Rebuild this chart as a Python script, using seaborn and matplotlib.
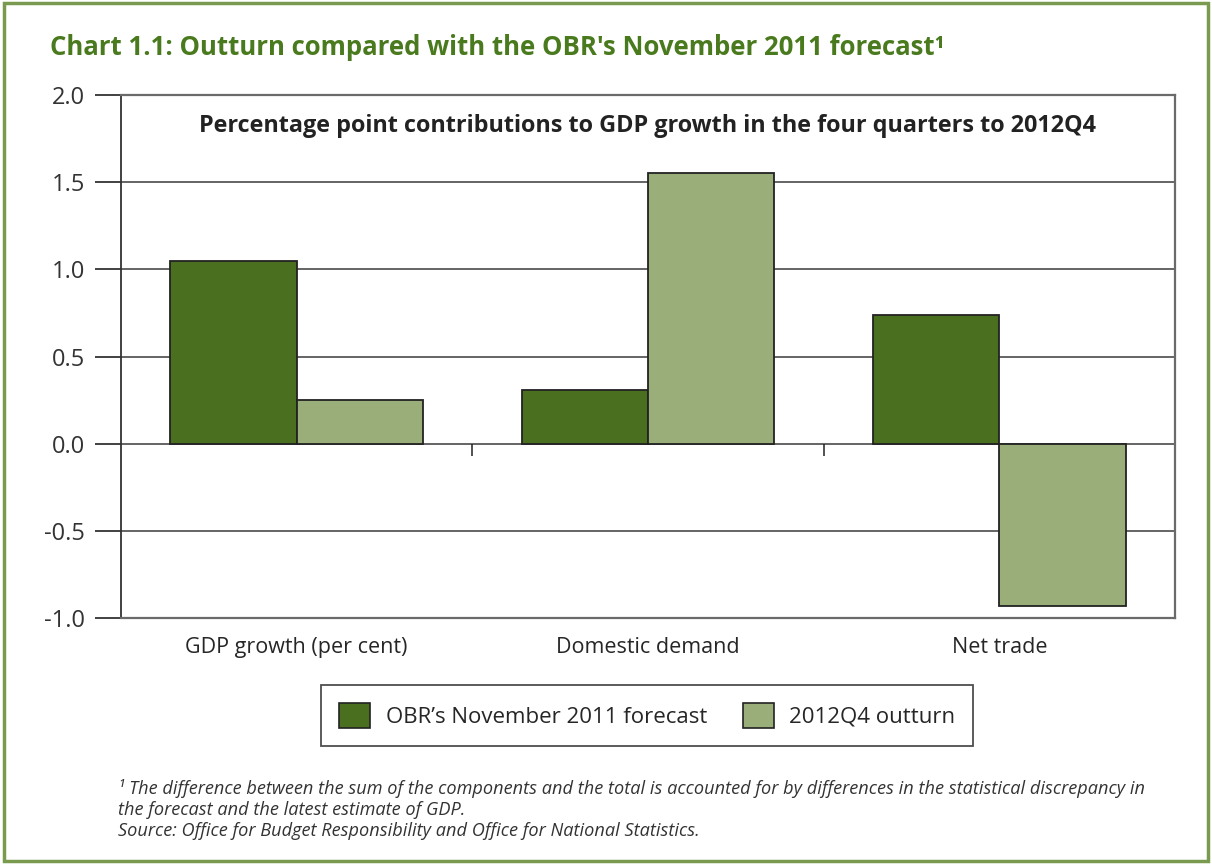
import pandas as pd
import matplotlib
matplotlib.use('Agg')
import matplotlib.pyplot as plt
import matplotlib.patches as mpatches
import seaborn as sns

categories = ['GDP growth (per cent)', 'Domestic demand', 'Net trade']
series_names = ['OBR\u2019s November 2011 forecast', '2012Q4 outturn']
forecast = [1.05, 0.31, 0.74]
outturn = [0.25, 1.55, -0.93]
y_ticks = [-1.0, -0.5, 0.0, 0.5, 1.0, 1.5, 2.0]

colors = ['#4a6f1e', '#9aae7a']

df = pd.DataFrame({
    'Category': categories * 2,
    'Series': [series_names[0]] * 3 + [series_names[1]] * 3,
    'Value': forecast + outturn,
})

sns.set_style('white')
plt.rcParams['font.family'] = ['Open Sans', 'DejaVu Sans']

fig = plt.figure(figsize=(12.12, 8.64), dpi=100)
ax = fig.add_axes([0.0998, 0.2847, 0.8697, 0.6053])

# gridlines behind bars
for yv in y_ticks[1:-1]:
    ax.axhline(yv, color='#3a3a3a', lw=1.1, zorder=0)

sns.barplot(data=df, x='Category', y='Value', hue='Series', palette=colors,
            width=0.72, edgecolor='#222222', linewidth=1.3, saturation=1,
            ax=ax, legend=False, zorder=2)

ax.set_ylim(-1.0, 2.0)
ax.set_xlim(-0.5, 2.5)
ax.set_yticks(y_ticks)
ax.set_yticklabels([f'{v:.1f}' for v in y_ticks], fontsize=17, color='#333333')
ax.tick_params(axis='y', left=True, direction='out', length=19, width=1.3,
               color='#333333', pad=7)
ax.tick_params(axis='x', bottom=False, length=0, labelsize=15.5, pad=14)
ax.set_xlabel('')
ax.set_ylabel('')

for s in ax.spines.values():
    s.set_visible(True)
    s.set_color('#6a6a6a')
    s.set_linewidth(1.6)
ax.spines['left'].set_color('#333333')
ax.spines['left'].set_linewidth(1.3)

# category separator ticks on the zero line
ax.vlines([0.5, 1.5], -0.07, 0, color='#222222', lw=1.1, zorder=3)

ax.text(0.5, 0.94, 'Percentage point contributions to GDP growth in the four quarters to 2012Q4',
        transform=ax.transAxes, ha='center', va='center', fontsize=16.8, fontweight='bold',
        color='#222222')

fig.text(0.041, 0.945, 'Chart 1.1: Outturn compared with the OBR\'s November 2011 forecast\u00b9',
         ha='left', va='center', fontsize=18.5, fontweight='bold', color='#4a7a1e')

handles = [mpatches.Patch(facecolor=c, edgecolor='#222222', linewidth=1.2) for c in colors]
leg = fig.legend(handles, series_names, loc='center', bbox_to_anchor=(0.534, 0.172),
                 ncol=2, fontsize=16, frameon=True, fancybox=False, edgecolor='#222222',
                 handlelength=1.4, handleheight=1.4, handletextpad=0.7, columnspacing=1.6,
                 borderpad=0.8)
leg.get_frame().set_linewidth(1.3)

foot = ('\u00b9 The difference between the sum of the components and the total is accounted for by differences in the statistical discrepancy in\n'
        'the forecast and the latest estimate of GDP.\n'
        'Source: Office for Budget Responsibility and Office for National Statistics.')
fig.text(0.097, 0.063, foot, ha='left', va='center', fontsize=13.1, style='italic',
         color='#333333', linespacing=1.2)

fig.patches.append(mpatches.Rectangle((0.003, 0.004), 0.994, 0.992, transform=fig.transFigure,
                                      fill=False, edgecolor='#7a9a50', linewidth=2.5))

fig.savefig('out.png', dpi=100)
